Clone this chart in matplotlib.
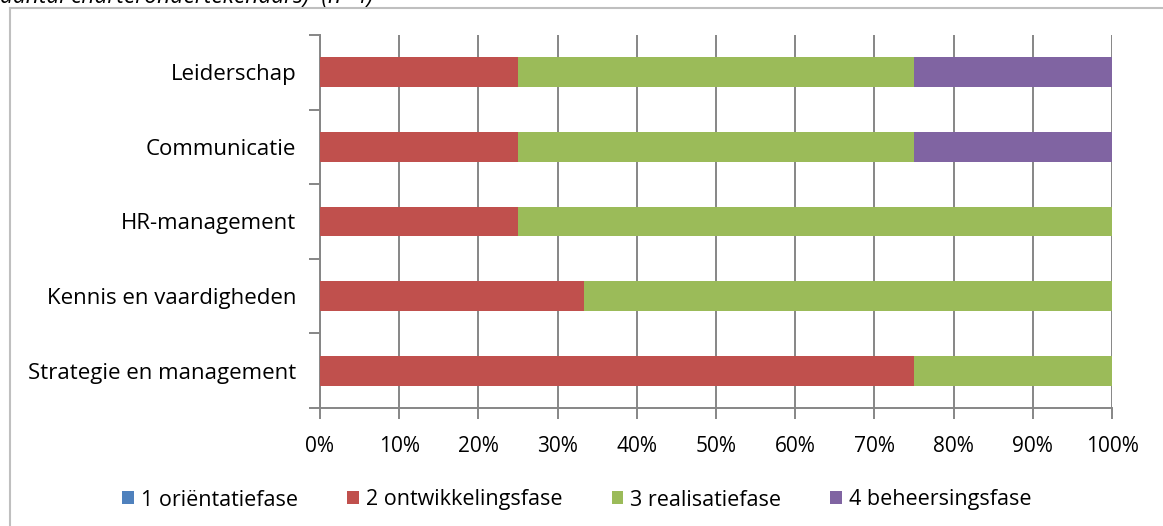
import matplotlib
matplotlib.use("Agg")
import matplotlib.pyplot as plt
from matplotlib.lines import Line2D
from matplotlib.patches import Patch
from matplotlib.ticker import FixedLocator, PercentFormatter

plt.rcParams["font.family"] = ["Open Sans", "DejaVu Sans"]

# categories, bottom to top
categories = ["Strategie en management", "Kennis en vaardigheden", "HR-management",
              "Communicatie", "Leiderschap"]
phases = ["1 oriëntatiefase", "2 ontwikkelingsfase", "3 realisatiefase", "4 beheersingsfase"]
colors = ["#4F81BD", "#C0504D", "#9BBB59", "#8064A2"]

# percentage per phase, one list per phase (same order as categories)
orientatie = [0, 0, 0, 0, 0]
ontwikkeling = [75, 33.3, 25, 25, 25]
realisatie = [25, 66.7, 75, 50, 50]
beheersing = [0, 0, 0, 25, 25]
series = [orientatie, ontwikkeling, realisatie, beheersing]

grey = "#868686"

fig = plt.figure(figsize=(11.63, 5.26), dpi=100)
ax = fig.add_axes([320 / 1163, 1 - 408 / 526, 792 / 1163, 373 / 526])

ypos = list(range(len(categories)))
left = [0] * len(categories)
for vals, col in zip(series, colors):
    ax.barh(ypos, vals, left=left, height=0.4, color=col, zorder=3)
    left = [l + v for l, v in zip(left, vals)]

ax.set_xlim(0, 100)
ax.set_ylim(-0.5, len(categories) - 0.5)
ax.set_xticks(range(0, 101, 10))
ax.xaxis.set_major_formatter(PercentFormatter(decimals=0))
ax.set_yticks(ypos)
ax.set_yticklabels(categories)
ax.yaxis.set_minor_locator(FixedLocator([i - 0.5 for i in range(len(categories) + 1)]))

ax.grid(axis="x", color=grey, linewidth=1.4, zorder=1)
ax.tick_params(axis="x", length=8, width=1.4, color=grey, pad=12.5, labelsize=15,
               labelcolor="black")
ax.tick_params(axis="y", which="major", length=0, pad=17, labelsize=16)
ax.tick_params(axis="y", which="minor", length=8, width=1.4, color=grey)
for side in ["top", "right"]:
    ax.spines[side].set_visible(False)
for side in ["left", "bottom"]:
    ax.spines[side].set_color(grey)
    ax.spines[side].set_linewidth(1.4)

handles = [Patch(facecolor=c, edgecolor="none") for c in colors]
fig.legend(handles, phases, loc="center", bbox_to_anchor=(0.496, 1 - 500 / 526),
           ncol=4, frameon=False, fontsize=15.5, handlelength=0.55, handleheight=0.55,
           handletextpad=0.3, columnspacing=2.3)

# outer chart frame
fig.add_artist(Line2D([10 / 1163, 10 / 1163], [0, 1 - 8 / 526], color="#bfbfbf", linewidth=1.5))
fig.add_artist(Line2D([10 / 1163, 1], [1 - 8 / 526, 1 - 8 / 526], color="#bfbfbf", linewidth=1.5))

# caption line above the chart, mostly cut off by the top edge
fig.text(0, 1 - 3 / 526, "aantal charterondertekenaars)  (n=4)", style="italic",
         fontsize=16.5, va="baseline", ha="left")

fig.savefig("out.png", dpi=100)
